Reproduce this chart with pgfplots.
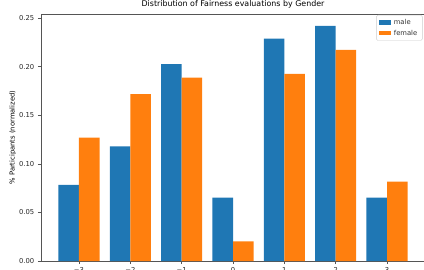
\documentclass[border=0pt]{standalone}
\usepackage{pgfplots}
\pgfplotsset{compat=1.18}
\usepackage{fontspec}
\setmainfont{DejaVu Sans}
\definecolor{cmale}{HTML}{1F77B4}
\definecolor{cfemale}{HTML}{FF7F0E}
\definecolor{spine}{HTML}{555555}
\begin{document}
\begin{tikzpicture}
\begin{axis}[
  name=ax,
  scale only axis,
  width=384pt, height=247pt,
  xmin=-3.74, xmax=3.74, ymin=0, ymax=0.2541,
  axis line style={spine, line width=0.7pt},
  xtick={-3,-2,-1,0,1,2,3},
  xticklabels={−3,−2,−1,0,1,2,3},
  ytick={0,0.05,0.10,0.15,0.20,0.25},
  yticklabel style={/pgf/number format/fixed, /pgf/number format/fixed zerofill, /pgf/number format/precision=2, /pgf/number format/assume math mode=true, xshift=-0.3pt},
  tick style={spine, line width=0.6pt},
  major tick length=3pt,
  tick align=outside,
  xtick pos=bottom, ytick pos=left,
  ticklabel style={font=\fontsize{6.8}{7.5}\selectfont, text=black!85},
  title={Distribution of Fairness evaluations by Gender},
  title style={font=\fontsize{7.9}{9}\selectfont, yshift=-3.5pt},
  ylabel={\% Participants (normalized)},
  ylabel style={font=\fontsize{6.8}{7.5}\selectfont, yshift=-4pt},
  legend style={at={(0.9935,0.996)}, anchor=north east, font=\fontsize{6.8}{8}\selectfont,
    draw=black!20, rounded corners=1.5pt, inner xsep=2.5pt, inner ysep=2pt, row sep=0pt,
    text=black!80, nodes={inner xsep=2.5pt}},
  legend cell align=left,
  legend image code/.code={\fill[#1, sharp corners] (0pt,-2pt) rectangle (12.5pt,2.2pt);},
]
\addplot[ybar, bar width=0.4, bar shift=-0.2, fill=cmale, draw=none]
  coordinates {(-3,0.0782) (-2,0.1180) (-1,0.2025) (0,0.0651) (1,0.2287) (2,0.2420) (3,0.0651)};
\addlegendentry{male}
\addplot[ybar, bar width=0.4, bar shift=0.2, fill=cfemale, draw=none]
  coordinates {(-3,0.1269) (-2,0.1718) (-1,0.1886) (0,0.0201) (1,0.1924) (2,0.2171) (3,0.0816)};
\addlegendentry{female}
\end{axis}
\pgfresetboundingbox
\path[use as bounding box] ([xshift=-41pt,yshift=-8pt]ax.south west) rectangle ([xshift=-1pt,yshift=14pt]ax.north east);
\end{tikzpicture}
\end{document}
